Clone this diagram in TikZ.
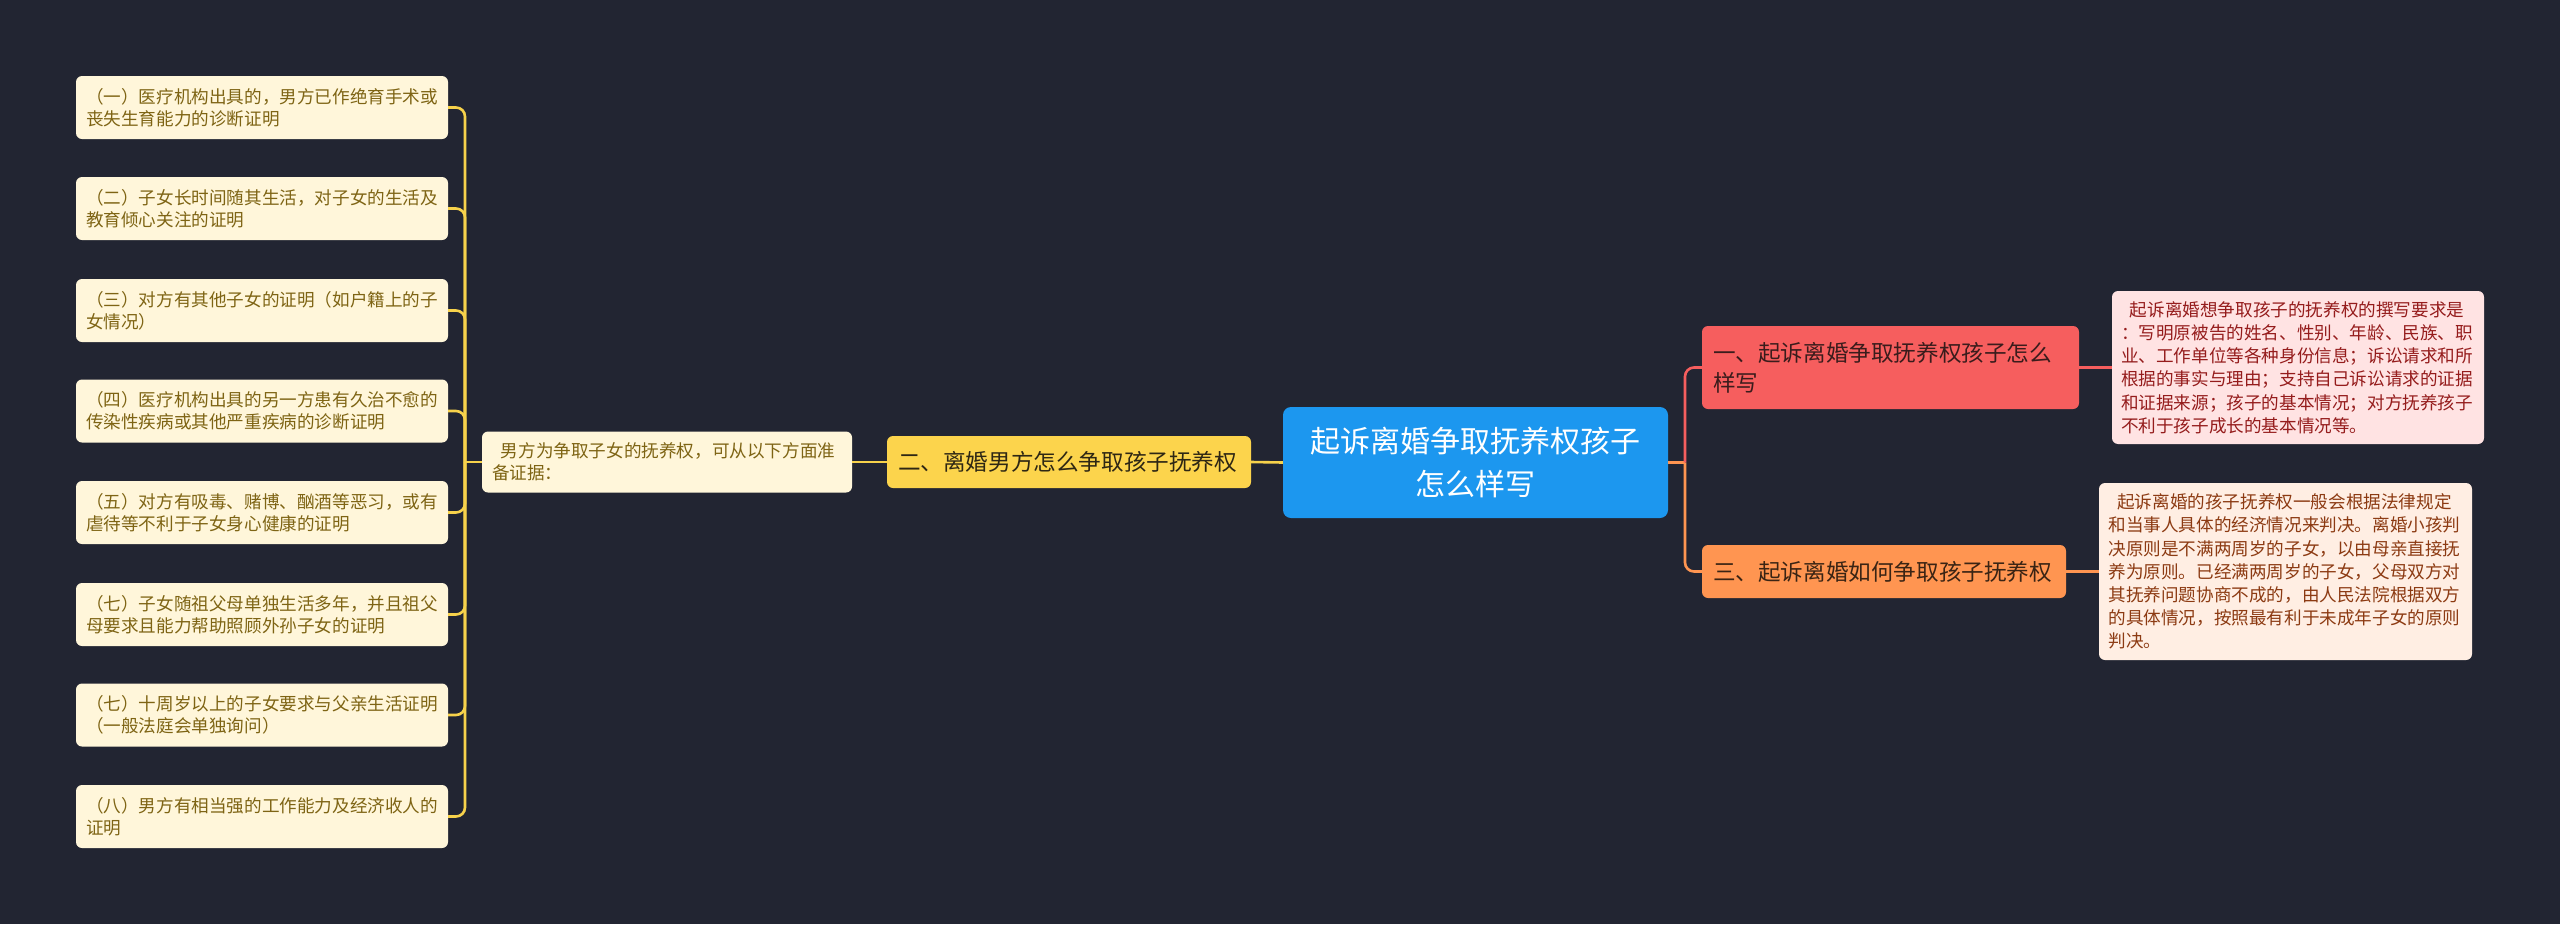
\documentclass[tikz,border=0pt]{standalone}
\usepackage{fontspec}
\setmainfont{Noto Sans CJK SC}
\definecolor{bg}{HTML}{222532}
\definecolor{lineY}{HTML}{F7D24B}
\definecolor{leaffill}{HTML}{FFF6DA}
\definecolor{leaftext}{HTML}{7E6414}
\definecolor{yfill}{HTML}{FCD44C}
\definecolor{ytext}{HTML}{2E2714}
\definecolor{blue}{HTML}{1C97EF}
\definecolor{redc}{HTML}{F65E5E}
\definecolor{redtext}{HTML}{3A1C1C}
\definecolor{orangec}{HTML}{FF9551}
\definecolor{orangetext}{HTML}{3A2414}
\definecolor{rtfill}{HTML}{FFE3E3}
\definecolor{rttext}{HTML}{951C1C}
\definecolor{rbfill}{HTML}{FFEEE3}
\definecolor{rbtext}{HTML}{8C3A12}
\begin{document}
\begin{tikzpicture}[x=1pt,y=-1pt,
  leaf/.style={fill=leaffill, rounded corners=6pt, text=leaftext, minimum width=372pt, minimum height=63pt, text width=352pt, inner sep=0pt, align=left, font=\fontsize{17.6}{22}\selectfont},
  ylw/.style={draw=lineY, line width=2.6pt},
  redline/.style={draw=redc, line width=2.6pt},
  orline/.style={draw=orangec, line width=2.6pt},
  headbox/.style={rounded corners=6pt, inner sep=0pt, align=left, font=\fontsize{22.6}{30}\selectfont},
  textbox/.style={rounded corners=6pt, inner sep=0pt, align=left, font=\fontsize{17.6}{23.2}\selectfont}
]
\fill[bg] (0,0) rectangle (2560,924);
\useasboundingbox (0,0) rectangle (2560,924);

% leaves
\node[leaf] (l1) at (262,107.5) {（一）医疗机构出具的，男方已作绝育手术或\\丧失生育能力的诊断证明};
\node[leaf] (l2) at (262,208.5) {（二）子女长时间随其生活，对子女的生活及\\教育倾心关注的证明};
\node[leaf] (l3) at (262,310.5) {（三）对方有其他子女的证明（如户籍上的子\\女情况）};
\node[leaf] (l4) at (262,411) {（四）医疗机构出具的另一方患有久治不愈的\\传染性疾病或其他严重疾病的诊断证明};
\node[leaf] (l5) at (262,512.5) {（五）对方有吸毒、赌博、酗酒等恶习，或有\\虐待等不利于子女身心健康的证明};
\node[leaf] (l6) at (262,614.5) {（七）子女随祖父母单独生活多年，并且祖父\\母要求且能力帮助照顾外孙子女的证明};
\node[leaf] (l7) at (262,715) {（七）十周岁以上的子女要求与父亲生活证明\\（一般法庭会单独询问）};
\node[leaf] (l8) at (262,816.5) {（八）男方有相当强的工作能力及经济收人的\\证明};

% hub left
\node[leaf, minimum width=370pt, minimum height=61pt, text width=350pt] (nan) at (667,462) {\hspace{0.5em}男方为争取子女的抚养权，可从以下方面准\\备证据：};

\node[headbox, fill=yfill, text=ytext, minimum width=364pt, minimum height=52pt, text width=342pt] (two) at (1069,462) {二、离婚男方怎么争取孩子抚养权};

\node[rounded corners=8pt, fill=blue, text=white, minimum width=385pt, minimum height=111pt, text width=360pt, inner sep=0pt, align=center, font=\fontsize{30}{43}\selectfont] (ctr) at (1475.5,462.5) {起诉离婚争取抚养权孩子\\怎么样写};

\node[headbox, fill=redc, text=redtext, minimum width=377pt, minimum height=83pt, text width=355pt] (one) at (1890.5,367.5) {一、起诉离婚争取抚养权孩子怎么\\样写};
\node[headbox, fill=orangec, text=orangetext, minimum width=364pt, minimum height=53pt, text width=342pt] (three) at (1884,571.5) {三、起诉离婚如何争取孩子抚养权};

\node[textbox, fill=rtfill, text=rttext, minimum width=372pt, minimum height=153pt, text width=354pt] (rt) at (2298,367.5) {\hspace{0.5em}起诉离婚想争取孩子的抚养权的撰写要求是\\：写明原被告的姓名、性别、年龄、民族、职\\业、工作单位等各种身份信息；诉讼请求和所\\根据的事实与理由；支持自己诉讼请求的证据\\和证据来源；孩子的基本情况；对方抚养孩子\\不利于孩子成长的基本情况等。};

\node[textbox, fill=rbfill, text=rbtext, minimum width=373pt, minimum height=177pt, text width=354pt] (rb) at (2285.5,571.5) {\hspace{0.5em}起诉离婚的孩子抚养权一般会根据法律规定\\和当事人具体的经济情况来判决。离婚小孩判\\决原则是不满两周岁的子女，以由母亲直接抚\\养为原则。已经满两周岁的子女，父母双方对\\其抚养问题协商不成的，由人民法院根据双方\\的具体情况，按照最有利于未成年子女的原则\\判决。};

% connectors left
\coordinate (busL) at (465,462);
\draw[ylw] (nan.west) -- (busL);
\foreach \i in {1,...,8} {\draw[ylw, rounded corners=9pt] (busL) |- (l\i.east);}
\draw[ylw] (two.west) -- (nan.east);
\draw[ylw] (ctr.west) -- (two.east);

% connectors right
\coordinate (busR) at (1685,462.5);
\draw[orline] (ctr.east) -- (busR);
\draw[redline, rounded corners=9pt] (busR) |- (one.west);
\draw[orline, rounded corners=9pt] (busR) |- (three.west);
\draw[redline] (one.east) -- (rt.west);
\draw[orline] (three.east) -- (rb.west);
\end{tikzpicture}
\end{document}
